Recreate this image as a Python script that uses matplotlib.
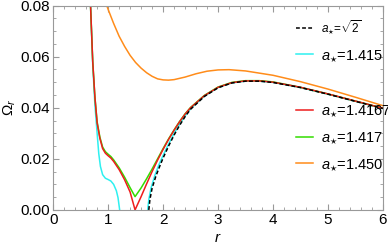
import matplotlib
matplotlib.use("Agg")
import matplotlib.pyplot as plt
from matplotlib.ticker import MultipleLocator

plt.rcParams['font.family'] = ['Liberation Sans', 'DejaVu Sans']
plt.rcParams['mathtext.fontset'] = 'custom'
plt.rcParams['mathtext.it'] = 'Liberation Sans:italic'
plt.rcParams['mathtext.rm'] = 'Liberation Sans'

# a* = sqrt(2), dashed
r_sq2 = [1.74, 1.76, 1.80, 1.87, 1.95, 2.0, 2.1, 2.2, 2.3, 2.4, 2.5, 2.75, 3.0, 3.25, 3.5, 3.75, 4.0, 4.5, 5.0, 5.5, 6.0]
w_sq2 = [0.0, 0.0040, 0.0085, 0.0133, 0.0177, 0.0203, 0.0250, 0.0293, 0.0331, 0.0365, 0.0394, 0.0444, 0.0478, 0.0497, 0.0504, 0.0504, 0.0499, 0.0479, 0.0453, 0.0425, 0.0397]

# a* = 1.415 (two branches)
r_415a = [0.68, 0.72, 0.76, 0.80, 0.83, 0.86, 0.90, 0.95, 1.0, 1.05, 1.10, 1.15, 1.18, 1.21]
w_415a = [0.080, 0.057, 0.041, 0.030, 0.022, 0.017, 0.0138, 0.0124, 0.0119, 0.0113, 0.0100, 0.0075, 0.0048, 0.0]
r_415b = [1.72, 1.74, 1.78, 1.85, 1.92, 2.0, 2.1, 2.2, 2.3, 2.4, 2.5, 2.75, 3.0, 3.25, 3.5, 3.75, 4.0, 4.5, 5.0, 5.5, 6.0]
w_415b = [0.0, 0.0040, 0.0085, 0.0135, 0.0175, 0.0213, 0.0258, 0.0299, 0.0335, 0.0368, 0.0396, 0.0445, 0.0479, 0.0497, 0.0504, 0.0504, 0.0499, 0.0479, 0.0453, 0.0425, 0.0397]

# a* = 1.4167
r_4167 = [0.68, 0.72, 0.76, 0.80, 0.85, 0.90, 0.95, 1.0, 1.05, 1.10, 1.20, 1.30, 1.40, 1.49,
          1.6, 1.7, 1.8, 1.9, 2.0, 2.1, 2.2, 2.3, 2.4, 2.5, 2.75, 3.0, 3.25, 3.5, 3.75, 4.0, 4.5, 5.0, 5.5, 6.0]
w_4167 = [0.080, 0.058, 0.044, 0.034, 0.028, 0.024, 0.0222, 0.0212, 0.0203, 0.0190, 0.0158, 0.0118, 0.0070, 0.0,
          0.0052, 0.0102, 0.0150, 0.0195, 0.0237, 0.0276, 0.0312, 0.0345, 0.0375, 0.0400, 0.0447, 0.0480, 0.0498, 0.0505, 0.0505, 0.0500, 0.0480, 0.0454, 0.0426, 0.0398]

# a* = 1.417
r_417 = [0.68, 0.72, 0.76, 0.80, 0.85, 0.90, 0.95, 1.0, 1.05, 1.10, 1.20, 1.30, 1.40, 1.49,
         1.6, 1.7, 1.8, 1.9, 2.0, 2.1, 2.2, 2.3, 2.4, 2.5, 2.75, 3.0, 3.25, 3.5, 3.75, 4.0, 4.5, 5.0, 5.5, 6.0]
w_417 = [0.080, 0.058, 0.044, 0.0345, 0.0285, 0.0246, 0.0228, 0.0218, 0.0209, 0.0196, 0.0165, 0.0128, 0.0087, 0.0052,
         0.0086, 0.0122, 0.0160, 0.0200, 0.0240, 0.0278, 0.0313, 0.0346, 0.0376, 0.0401, 0.0448, 0.0481, 0.0499, 0.0506, 0.0506, 0.0501, 0.0480, 0.0454, 0.0426, 0.0398]

# a* = 1.450
r_450 = [0.96, 1.0, 1.1, 1.2, 1.3, 1.4, 1.5, 1.6, 1.7, 1.8, 1.9, 2.0, 2.1, 2.2, 2.4, 2.6, 2.8, 3.0, 3.2, 3.5, 4.0, 4.5, 5.0, 5.5, 6.0]
w_450 = [0.081, 0.0785, 0.0730, 0.0680, 0.0640, 0.0605, 0.0577, 0.0555, 0.0537, 0.0523, 0.0513, 0.0509, 0.0508, 0.0510, 0.0520, 0.0533, 0.0543, 0.0548, 0.0549, 0.0544, 0.0527, 0.0502, 0.0473, 0.0441, 0.0408]

c_cyan = '#2EF0F0'
c_red = '#EE1C1C'
c_green = '#33DD00'
c_orange = '#FF8C1A'
lw = 1.1

fig = plt.figure(figsize=(3.88, 2.52), dpi=100)
ax = fig.add_axes([0.137, 0.167, 0.850, 0.811])

l_cyan, = ax.plot(r_415a, w_415a, color=c_cyan, lw=lw)
ax.plot(r_415b, w_415b, color=c_cyan, lw=lw)
l_orange, = ax.plot(r_450, w_450, color=c_orange, lw=lw)
l_green, = ax.plot(r_417, w_417, color=c_green, lw=lw)
l_red, = ax.plot(r_4167, w_4167, color=c_red, lw=lw)
l_sq2, = ax.plot(r_sq2, w_sq2, color='black', lw=lw, ls=(0, (2.5, 1.5)))

ax.set_xlim(0, 6)
ax.set_ylim(0, 0.08)
ax.xaxis.set_major_locator(MultipleLocator(1))
ax.xaxis.set_minor_locator(MultipleLocator(0.2))
ax.yaxis.set_major_locator(MultipleLocator(0.02))
ax.yaxis.set_minor_locator(MultipleLocator(0.005))
ax.yaxis.set_major_formatter(matplotlib.ticker.FormatStrFormatter('%.2f'))
ax.tick_params(which='both', direction='in', top=True, right=True, color='#999999',
               labelsize=11, labelcolor='black', pad=2)
ax.tick_params(which='major', length=4)
ax.tick_params(which='minor', length=2)
for s in ax.spines.values():
    s.set_color('#999999')

ax.set_xlabel(r'$r$', fontsize=11, labelpad=3)
ax.set_ylabel(r'$\Omega_r$', fontsize=11, labelpad=2)

leg_kw = dict(loc='upper left', frameon=False, fontsize=10.5, handlelength=1.15,
              handletextpad=0.5, labelspacing=0.75, borderaxespad=0)
leg1 = ax.legend([l_sq2, l_cyan], [r'$a_{\star}$=$\sqrt{2}$', r'$a_{\star}$=1.415'],
                 bbox_to_anchor=(0.72, 0.965), **leg_kw)
leg1.get_texts()[0].set_fontsize(8.5)
ax.add_artist(leg1)
ax.legend([l_red, l_green, l_orange],
          [r'$a_{\star}$=1.4167', r'$a_{\star}$=1.417', r'$a_{\star}$=1.450'],
          bbox_to_anchor=(0.72, 0.55), **leg_kw)

fig.savefig('out.png', dpi=100)
